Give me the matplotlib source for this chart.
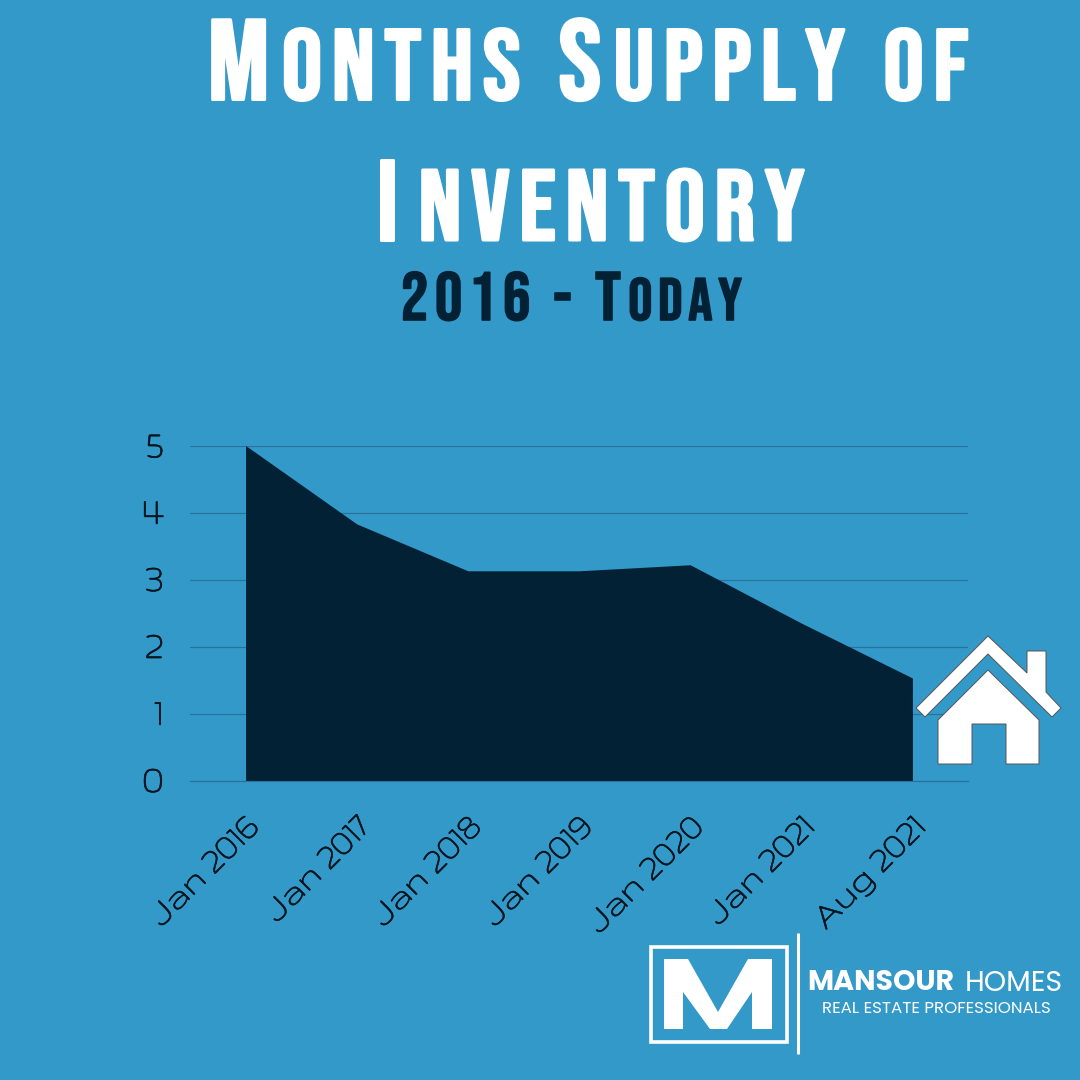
import matplotlib.pyplot as plt
import matplotlib.patheffects as pe
from matplotlib.patches import Polygon, Rectangle

categories = ["Jan 2016", "Jan 2017", "Jan 2018", "Jan 2019", "Jan 2020", "Jan 2021", "Aug 2021"]
months_supply = [5.0, 3.83, 3.13, 3.13, 3.22, 2.35, 1.53]
y_ticks = [0, 1, 2, 3, 4, 5]

BG = "#3299c9"
DARK = "#032135"
GRID = "#2a7099"
TICK = "#04151f"
TITLE_FONT = ["Bebas Neue", "DejaVu Sans"]
LABEL_FONT = ["Gruppo", "Poiret One", "DejaVu Sans"]
LOGO_FONT = ["Poppins", "Liberation Sans"]

fig = plt.figure(figsize=(10.8, 10.8), dpi=100, facecolor=BG)
renderer = fig.canvas.get_renderer()


def fx(px):
    return px / 1080


def fy(py):
    return 1 - py / 1080


def track(word):
    # hair spaces stand in for the wide tracking of the original lettering
    return "\u200a".join(word)


def smallcaps_line(runs, left, right, baseline, color, weight):
    # runs are (text, size, gap weight before it); free space goes to the gaps
    texts = [
        fig.text(0, fy(baseline), t, fontsize=s, color=color, family=TITLE_FONT,
                 va="baseline", ha="left",
                 path_effects=[pe.withStroke(linewidth=weight, foreground=color)])
        for t, s, _ in runs
    ]
    widths = [t.get_window_extent(renderer).width for t in texts]
    total = sum(g for _, _, g in runs)
    unit = (right - left - sum(widths)) / total
    x = left
    for t, w, (_, _, g) in zip(texts, widths, runs):
        x += g * unit
        t.set_x(fx(x))
        x += w


smallcaps_line([("M", 82, 0), (track("ONTHS"), 72, 1), ("S", 82, 3), (track("UPPLY"), 72, 1), (track("OF"), 72, 3)],
               208, 968, 99.5, "white", 2.2)
smallcaps_line([("I", 82, 0), (track("NVENTORY"), 72, 1)], 376, 805, 240, "white", 2.2)
smallcaps_line([(track("2016"), 49, 0), ("-", 49, 3), ("T", 49, 3), (track("ODAY"), 43, 1)], 401, 742, 320, DARK, 1.2)

ax = fig.add_axes([fx(190), fy(780.5), fx(968 - 190), (780.5 - 445.5) / 1080])
ax.set_facecolor("none")
x_pos = list(range(len(categories)))
ax.fill_between(x_pos, months_supply, 0, color=DARK, linewidth=0, zorder=2)
ax.set_xlim(-0.5, 6.5)
ax.set_ylim(0, 5)
ax.set_yticks(y_ticks)
ax.set_xticks(x_pos)
ax.set_xticklabels(categories, rotation=45, ha="right", rotation_mode="anchor")
ax.grid(axis="y", color=GRID, linewidth=0.8, zorder=1)
ax.set_axisbelow(True)
for s in ax.spines.values():
    s.set_visible(False)
ax.spines["bottom"].set_visible(True)
ax.spines["bottom"].set_color(GRID)
ax.spines["bottom"].set_linewidth(0.8)
ax.spines["bottom"].set_zorder(3)
ax.tick_params(axis="both", length=0)
ax.tick_params(axis="y", pad=19)
ax.tick_params(axis="x", pad=24)
stroke = [pe.withStroke(linewidth=0.4, foreground=TICK)]
for lab in ax.get_yticklabels():
    lab.set(fontsize=30, color=TICK, family=LABEL_FONT, path_effects=stroke)
for lab in ax.get_xticklabels():
    lab.set(fontsize=28, color=TICK, family=LABEL_FONT, path_effects=stroke)

# overlay in pixel space for the house and logo
over = fig.add_axes([0, 0, 1, 1], facecolor="none")
over.set_xlim(0, 1080)
over.set_ylim(1080, 0)
over.axis("off")

roof = [(988, 636), (1027, 673), (1027, 651), (1046, 651), (1046, 692), (1061, 708),
        (1052, 717), (988, 654), (925, 717), (916, 708)]
body = [(988, 670), (1039, 720), (1039, 764), (1006, 764), (1006, 724), (972, 724),
        (972, 764), (938, 764), (938, 720)]
over.add_patch(Polygon(roof, closed=True, fc="white", ec="#555555", lw=0.7))
over.add_patch(Polygon(body, closed=True, fc="white", ec="#555555", lw=0.7))

over.add_patch(Rectangle((650.5, 946.5), 136, 95, fc="none", ec="white", lw=2.6))
m_shape = [(664, 959), (688, 959), (718, 1012), (748, 959), (772, 959), (772, 1029), (752, 1029),
           (752, 992), (727, 1029), (710, 1029), (683, 992), (683, 1029), (664, 1029)]
over.add_patch(Polygon(m_shape, closed=True, fc="white", ec="none"))
over.plot([798, 798], [933, 1054], color="white", lw=2.2, solid_capstyle="butt")

over.text(807, 984, "MANSOUR", color="white", fontsize=20.5, fontweight="bold",
          family=LOGO_FONT, va="center", ha="left")
over.text(1063, 984, "HOMES", color="white", fontsize=20.5, family=LOGO_FONT,
          va="center", ha="right")
over.text(1051, 1009, "REAL ESTATE PROFESSIONALS", color="white", fontsize=12,
          family=LOGO_FONT, va="center", ha="right")

fig.savefig("out.png", dpi=100, facecolor=BG)
